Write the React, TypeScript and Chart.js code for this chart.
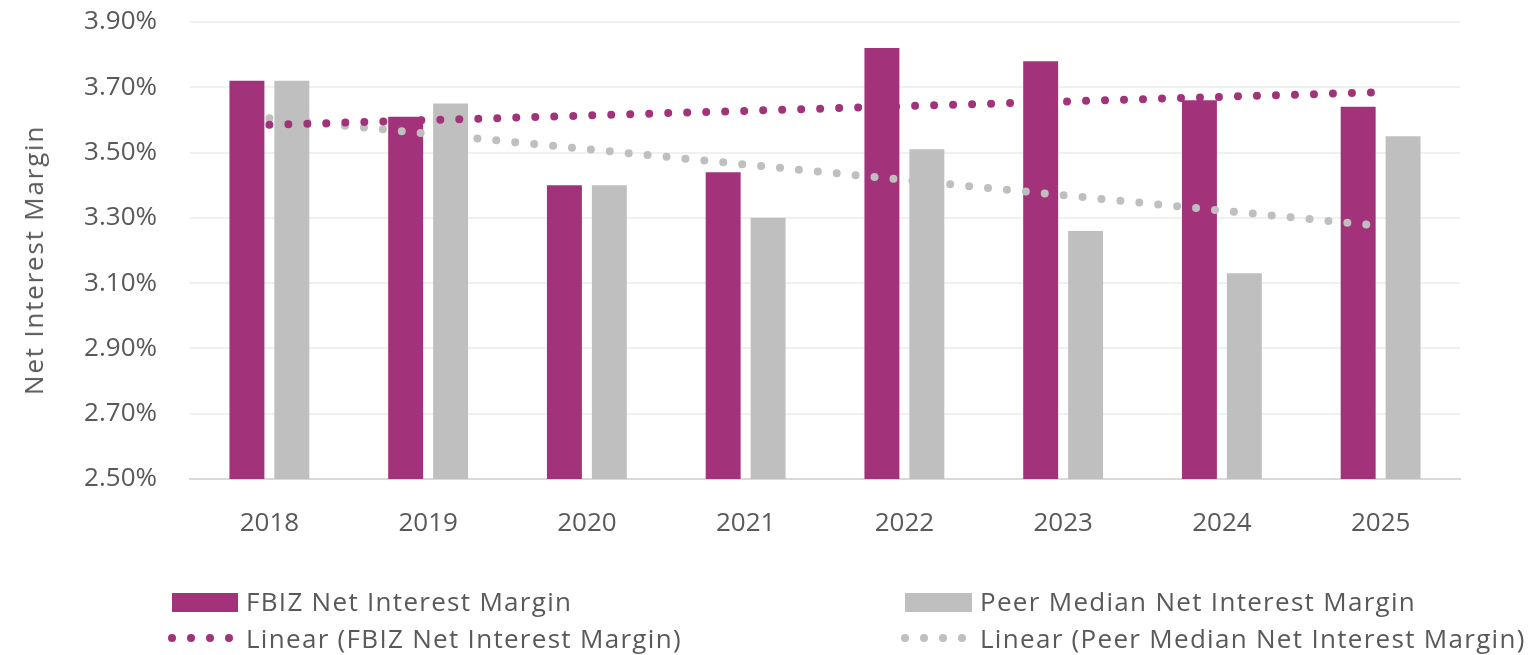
import React, { useEffect, useRef } from "react";
import { Chart, registerables } from "chart.js";

Chart.register(...registerables);

const categories = ["2018", "2019", "2020", "2021", "2022", "2023", "2024", "2025"];
const fbizValues = [3.72, 3.61, 3.4, 3.44, 3.82, 3.78, 3.66, 3.64];
const peerValues = [3.72, 3.65, 3.4, 3.3, 3.51, 3.26, 3.13, 3.55];
const fbizTrend = [3.585, null, null, null, null, null, null, 3.685];
const peerTrend = [3.605, null, null, null, null, null, null, 3.275];
const yTicks = [2.5, 2.7, 2.9, 3.1, 3.3, 3.5, 3.7, 3.9];

const axisTitle = "Net Interest Margin";
const seriesNames = [
  "FBIZ Net Interest Margin",
  "Peer Median Net Interest Margin",
  "Linear (FBIZ Net Interest Margin)",
  "Linear (Peer Median Net Interest Margin)",
];

const PURPLE = "#A2337A";
const GRAY = "#BFBFBF";
const TEXT = "#595959";
const FONT = "'Open Sans', sans-serif";

export default function App() {
  const ref = useRef<HTMLCanvasElement | null>(null);

  useEffect(() => {
    if (!ref.current) return;
    const chart = new Chart(ref.current, {
      type: "bar",
      data: {
        labels: categories,
        datasets: [
          {
            type: "line",
            label: seriesNames[2],
            data: fbizTrend,
            borderColor: PURPLE,
            borderWidth: 8,
            borderDash: [0, 19],
            borderCapStyle: "round",
            pointRadius: 0,
            spanGaps: true,
            fill: false,
            order: 0,
          } as any,
          {
            type: "line",
            label: seriesNames[3],
            data: peerTrend,
            borderColor: GRAY,
            borderWidth: 8,
            borderDash: [0, 19],
            borderCapStyle: "round",
            pointRadius: 0,
            spanGaps: true,
            fill: false,
            order: 1,
          } as any,
          {
            label: seriesNames[0],
            data: fbizValues,
            backgroundColor: PURPLE,
            categoryPercentage: 0.566,
            barPercentage: 0.778,
            order: 2,
          },
          {
            label: seriesNames[1],
            data: peerValues,
            backgroundColor: GRAY,
            categoryPercentage: 0.566,
            barPercentage: 0.778,
            order: 3,
          },
        ],
      },
      options: {
        animation: false,
        responsive: true,
        maintainAspectRatio: false,
        layout: { padding: { top: 22, right: 77, left: 0, bottom: 0 } },
        plugins: {
          legend: { display: false },
          tooltip: { enabled: false },
        },
        scales: {
          x: {
            grid: { display: false, drawTicks: false },
            border: { display: true, color: "#D9D9D9", width: 2 },
            ticks: {
              color: TEXT,
              font: { family: FONT, size: 26 },
              padding: 29,
              maxRotation: 0,
            },
            afterFit: (scale: any) => {
              scale.height = 176;
            },
          },
          y: {
            min: 2.5,
            max: 3.9,
            grid: { color: "#F0F0F0", lineWidth: 2, drawTicks: false },
            border: { display: false },
            afterBuildTicks: (scale: any) => {
              scale.ticks = yTicks.map((v) => ({ value: v }));
            },
            ticks: {
              color: TEXT,
              font: { family: FONT, size: 26 },
              padding: 33,
              callback: (v: any) => Number(v).toFixed(2) + "%",
            },
            afterFit: (scale: any) => {
              scale.width = 190;
              scale.paddingTop = 0;
              scale.paddingBottom = 0;
            },
          },
        },
      },
    });
    return () => chart.destroy();
  }, []);

  const textStyle: React.CSSProperties = {
    position: "absolute",
    fontFamily: FONT,
    fontSize: 26,
    color: TEXT,
    lineHeight: "36px",
    whiteSpace: "nowrap",
    letterSpacing: "1.3px",
  };
  const dots = (color: string, left: number, top: number) =>
    [0, 1, 2, 3].map((i) => (
      <div
        key={i}
        style={{
          position: "absolute",
          left: left + i * 19,
          top,
          width: 8,
          height: 8,
          borderRadius: 4,
          background: color,
        }}
      />
    ));

  return (
    <div style={{ position: "absolute", left: 0, top: 0, width: 1537, height: 655, background: "#fff" }}>
      <canvas ref={ref} />
      <div
        style={{
          position: "absolute",
          left: 33,
          top: 260,
          transform: "translate(-50%, -50%) rotate(-90deg)",
          fontFamily: FONT,
          fontSize: 26,
          color: TEXT,
          whiteSpace: "nowrap",
          letterSpacing: "1.8px",
          lineHeight: "32px",
        }}
      >
        {axisTitle}
      </div>
      <div style={{ position: "absolute", left: 172, top: 593, width: 66, height: 19, background: PURPLE }} />
      <div style={{ ...textStyle, left: 246, top: 583 }}>{seriesNames[0]}</div>
      <div style={{ position: "absolute", left: 905, top: 593, width: 67, height: 19, background: GRAY }} />
      <div style={{ ...textStyle, left: 980, top: 583 }}>{seriesNames[1]}</div>
      {dots(PURPLE, 168, 634)}
      <div style={{ ...textStyle, left: 246, top: 620 }}>{seriesNames[2]}</div>
      {dots(GRAY, 901, 634)}
      <div style={{ ...textStyle, left: 980, top: 620 }}>{seriesNames[3]}</div>
    </div>
  );
}
